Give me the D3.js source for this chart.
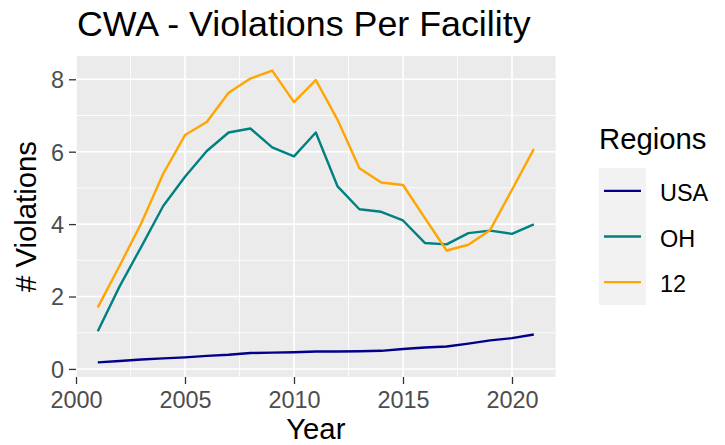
<!DOCTYPE html>
<html>
<head>
<meta charset="utf-8">
<script src="https://cdn.jsdelivr.net/npm/d3@7"></script>
<style>
  body { margin: 0; background: #fff; }
  svg text { font-family: "Liberation Sans", Arial, sans-serif; }
</style>
</head>
<body>
<div id="chart"></div>
<script>
// data
var years = d3.range(2001, 2022);
var usa = [0.18, 0.22, 0.26, 0.29, 0.32, 0.36, 0.39, 0.44, 0.45, 0.46, 0.48,
           0.48, 0.49, 0.50, 0.55, 0.59, 0.62, 0.70, 0.79, 0.85, 0.95];
var oh = [1.04, 2.28, 3.38, 4.50, 5.31, 6.02, 6.53, 6.64, 6.12, 5.87, 6.53,
          5.04, 4.41, 4.34, 4.10, 3.48, 3.44, 3.75, 3.82, 3.73, 3.99];
var r12 = [1.70, 2.85, 4.03, 5.39, 6.46, 6.82, 7.63, 8.02, 8.24, 7.37, 7.98,
           6.88, 5.54, 5.15, 5.08, 4.17, 3.27, 3.43, 3.84, 4.95, 6.07];
var seriesNames = ['USA', 'OH', '12'];
var seriesColors = ['#00008B', '#008080', '#FFA500'];
var xTicks = [2000, 2005, 2010, 2015, 2020];
var yTicks = [0, 2, 4, 6, 8];

(function () {
	var width = 725, height = 445;
	var panel = {left: 76, right: 555.6, top: 56, bottom: 377};
	var series = [usa, oh, r12];
	var base = 29.3; // ggplot-style base font size

	var svg = d3.select('#chart').append('svg')
		.attr('width', width).attr('height', height);

	var allVals = usa.concat(oh, r12);
	var yMin = d3.min(allVals), yMax = d3.max(allVals);
	var yPad = (yMax - yMin) * 0.05;
	var x = d3.scaleLinear().domain([2000, 2022]).range([panel.left, panel.right]);
	var y = d3.scaleLinear().domain([yMin - yPad, yMax + yPad]).range([panel.bottom, panel.top]);

	// panel background
	svg.append('rect')
		.attr('x', panel.left).attr('y', panel.top)
		.attr('width', panel.right - panel.left).attr('height', panel.bottom - panel.top)
		.attr('fill', '#EBEBEB');

	// minor grid
	var xMinor = xTicks.map(d => d + 2.5).filter(d => x(d) < panel.right);
	var yMinor = yTicks.map(d => d + 1).filter(d => y(d) > panel.top);
	svg.selectAll('.xminor').data(xMinor).enter().append('line')
		.attr('x1', d => x(d)).attr('x2', d => x(d))
		.attr('y1', panel.top).attr('y2', panel.bottom)
		.attr('stroke', '#fff').attr('stroke-width', 0.8);
	svg.selectAll('.yminor').data(yMinor).enter().append('line')
		.attr('y1', d => y(d)).attr('y2', d => y(d))
		.attr('x1', panel.left).attr('x2', panel.right)
		.attr('stroke', '#fff').attr('stroke-width', 0.8);

	// major grid
	svg.selectAll('.xmajor').data(xTicks).enter().append('line')
		.attr('x1', d => x(d)).attr('x2', d => x(d))
		.attr('y1', panel.top).attr('y2', panel.bottom)
		.attr('stroke', '#fff').attr('stroke-width', 1.6);
	svg.selectAll('.ymajor').data(yTicks).enter().append('line')
		.attr('y1', d => y(d)).attr('y2', d => y(d))
		.attr('x1', panel.left).attr('x2', panel.right)
		.attr('stroke', '#fff').attr('stroke-width', 1.6);

	// axes
	var xAxis = d3.axisBottom(x).tickValues(xTicks).tickFormat(d3.format('d'))
		.tickSize(7).tickPadding(7);
	var yAxis = d3.axisLeft(y).tickValues(yTicks).tickSize(7).tickPadding(5);

	var gx = svg.append('g').attr('transform', 'translate(0,' + panel.bottom + ')').call(xAxis);
	var gy = svg.append('g').attr('transform', 'translate(' + panel.left + ',0)').call(yAxis);
	[gx, gy].forEach(function (g) {
		g.select('.domain').remove();
		g.selectAll('.tick line').attr('stroke', '#333').attr('stroke-width', 1.3);
		g.selectAll('.tick text').attr('fill', '#4D4D4D')
			.style('font-size', (base * 0.8) + 'px');
	});
	gy.selectAll('.tick text').attr('dy', '0.36em');

	// lines
	var line = d3.line()
		.x((d, i) => x(years[i]))
		.y(d => y(d));
	svg.selectAll('.series').data(series).enter().append('path')
		.attr('d', d => line(d))
		.attr('fill', 'none')
		.attr('stroke', (d, i) => seriesColors[i])
		.attr('stroke-width', 2.4)
		.attr('stroke-linejoin', 'round');

	// titles
	svg.append('text').attr('x', 77).attr('y', 36)
		.style('font-size', '35.8px').attr('fill', '#000')
		.text('CWA - Violations Per Facility');
	svg.append('text').attr('x', (panel.left + panel.right) / 2).attr('y', 439)
		.attr('text-anchor', 'middle').style('font-size', base + 'px').attr('fill', '#000')
		.text('Year');
	svg.append('text')
		.attr('transform', 'translate(36,' + ((panel.top + panel.bottom) / 2) + ')rotate(-90)')
		.attr('text-anchor', 'middle').style('font-size', base + 'px').attr('fill', '#000')
		.text('# Violations');

	// legend
	var legend = svg.append('g');
	legend.append('text').attr('x', 599).attr('y', 149)
		.style('font-size', base + 'px').attr('fill', '#000').text('Regions');
	legend.append('rect').attr('x', 599).attr('y', 168)
		.attr('width', 47).attr('height', 137).attr('fill', '#F2F2F2');
	var keyH = 137 / 3;
	var keys = legend.selectAll('.key').data(seriesNames).enter().append('g')
		.attr('transform', (d, i) => 'translate(0,' + (168 + keyH * i + keyH / 2) + ')');
	keys.append('line')
		.attr('x1', 604).attr('x2', 641)
		.attr('stroke', (d, i) => seriesColors[i]).attr('stroke-width', 2.4);
	keys.append('text').attr('x', 660).attr('y', 10)
		.style('font-size', (base * 0.8) + 'px').attr('fill', '#000')
		.text(d => d);
})();
</script>
</body>
</html>
